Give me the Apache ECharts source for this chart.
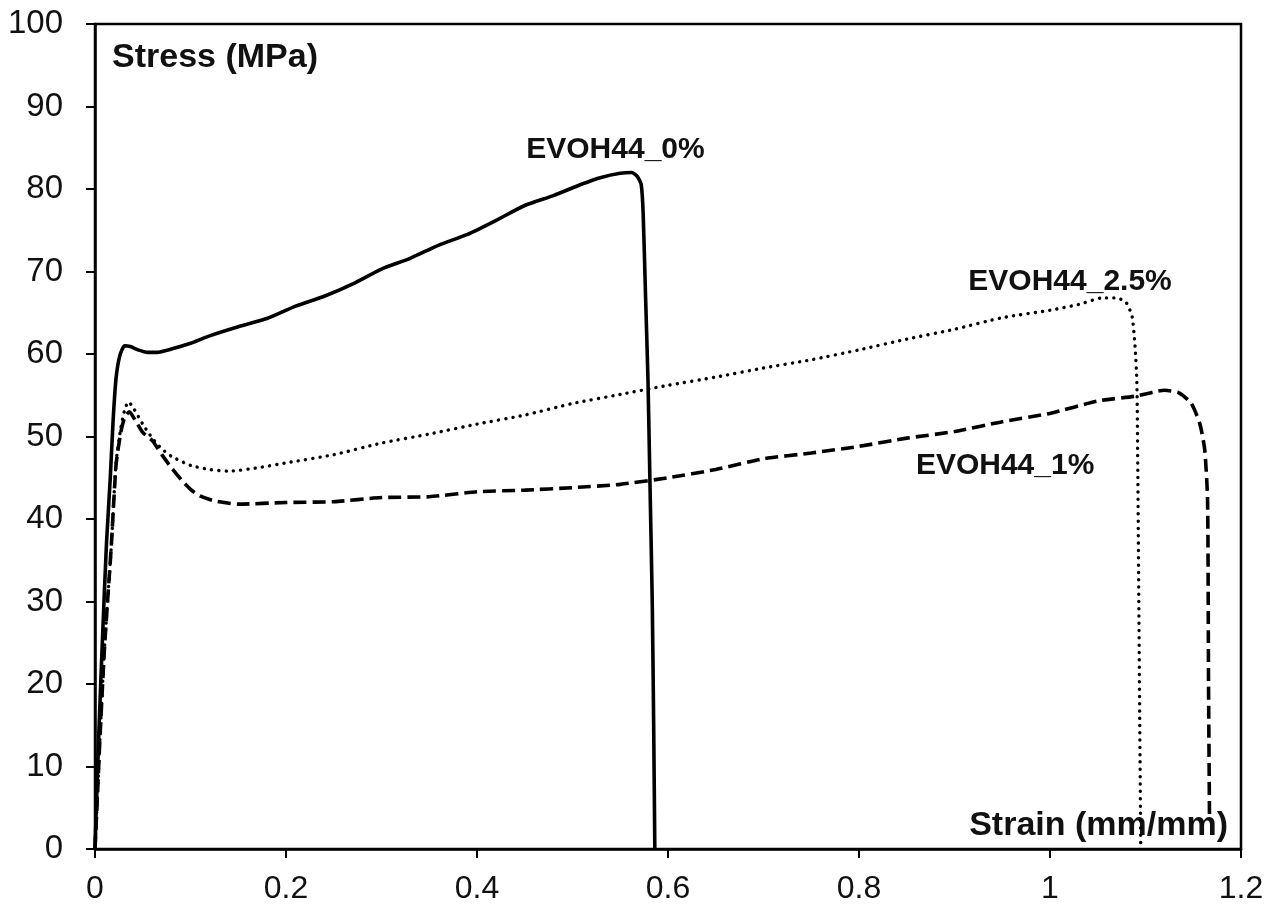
<!DOCTYPE html>
<html>
<head>
<meta charset="utf-8">
<style>html,body{margin:0;padding:0;background:#fff}#c{width:1279px;height:911px}</style>
<script src="https://cdn.jsdelivr.net/npm/echarts@6/dist/echarts.min.js"></script>
</head>
<body>
<div id="c"></div>
<script>
// ---- data ----
const strain0 = [0,0.004,0.008,0.012,0.016,0.019,0.022,0.026,0.031,0.037,0.045,0.055,0.065,0.08,0.1,0.12,0.15,0.18,0.21,0.24,0.27,0.3,0.33,0.36,0.39,0.42,0.45,0.48,0.51,0.53,0.55,0.562,0.568,0.572,0.574,0.5765,0.579,0.581,0.5835,0.585,0.5862];
const stress0 = [0,14,26,37,45,52,57,59.8,61,60.9,60.5,60.2,60.2,60.6,61.3,62.2,63.3,64.3,65.8,67,68.5,70.3,71.6,73.2,74.5,76.2,78,79.2,80.6,81.4,81.9,82,81.5,80.5,77,67,57,45,30,15,0];

const strain25 = [0,0.002,0.005,0.01,0.017,0.022,0.027,0.031,0.035,0.04,0.05,0.06,0.07,0.08,0.1,0.12,0.14,0.17,0.2,0.25,0.3,0.35,0.4,0.45,0.5,0.55,0.6,0.65,0.7,0.75,0.8,0.85,0.9,0.95,1.0,1.03,1.055,1.07,1.08,1.086,1.089,1.091,1.092,1.093,1.094,1.095];
const stress25 = [0,5,13,24.5,36.6,46.8,51,53.2,54.2,53.5,51.5,49.8,48.5,47.6,46.5,46,45.8,46.2,46.8,47.8,49.2,50.3,51.5,52.6,54,55.1,56.2,57.2,58.3,59.3,60.5,61.8,63,64.4,65.3,66,66.8,66.8,66.2,64.5,61,56.5,45,30,15,0.5];

const strain1 = [0,0.002,0.005,0.01,0.017,0.022,0.027,0.031,0.036,0.042,0.05,0.06,0.07,0.08,0.09,0.1,0.11,0.125,0.15,0.2,0.25,0.3,0.35,0.4,0.45,0.5,0.55,0.6,0.65,0.7,0.75,0.8,0.85,0.9,0.95,1.0,1.05,1.09,1.12,1.135,1.148,1.157,1.162,1.165,1.166,1.167];
const stress1 = [0,5,13,24.5,36.6,46.5,50.5,52.3,53,52,50.5,49.5,47.8,46.2,44.8,43.6,42.8,42.2,41.8,42,42.1,42.6,42.7,43.3,43.5,43.8,44.2,45,46,47.3,48,48.8,49.8,50.6,51.8,52.8,54.3,54.9,55.6,55.3,54,51.5,48.4,42.3,20,4];

const seriesNames = ['EVOH44_0%','EVOH44_2.5%','EVOH44_1%'];
const labelPos = [[0.545,84.7],[1.021,68.7],[0.953,46.5]];
const xTicks = [0,0.2,0.4,0.6,0.8,1,1.2];
const yTicks = [0,10,20,30,40,50,60,70,80,90,100];

const zip = (a,b) => a.map((v,i)=>[v,b[i]]);

const chart = echarts.init(document.getElementById('c'), null, {renderer:'canvas'});
const FONT = 'Liberation Sans, Arial, sans-serif';
const lblStyle = {show:true, position:'inside', fontFamily:FONT, fontWeight:'bold', fontSize:30, color:'#111', formatter:'{b}'};
function mk(i){ return {symbol:'circle', symbolSize:0, silent:true, data:[{name:seriesNames[i], coord:labelPos[i], label:lblStyle, itemStyle:{color:'transparent'}}]}; }

chart.setOption({
  animation:false,
  backgroundColor:'#fff',
  grid:{left:95, right:38, top:24, bottom:62, show:true, borderColor:'#000', borderWidth:2.5, backgroundColor:'transparent'},
  xAxis:{type:'value', min:0, max:1.2, interval:0.2,
    axisLine:{show:true, lineStyle:{color:'#000', width:2.5}},
    axisTick:{show:true, inside:false, length:9, lineStyle:{color:'#000', width:2}},
    splitLine:{show:false},
    axisLabel:{color:'#111', fontFamily:FONT, fontSize:32, margin:24,
      formatter:v=>{const t=xTicks.find(x=>Math.abs(x-v)<1e-9); return t===undefined?'':String(t);}}},
  yAxis:{type:'value', min:0, max:100, interval:10,
    axisLine:{show:true, lineStyle:{color:'#000', width:2.5}},
    axisTick:{show:true, inside:false, length:9, lineStyle:{color:'#000', width:2}},
    splitLine:{show:false},
    axisLabel:{color:'#111', fontFamily:FONT, fontSize:33, margin:32,
      formatter:v=>{const t=yTicks.find(x=>Math.abs(x-v)<1e-9); return t===undefined?'':String(t);}}},
  graphic:[
    {type:'text', left:112, top:41, style:{text:'Stress (MPa)', fontFamily:FONT, fontWeight:'bold', fontSize:34, fill:'#111'}},
    {type:'text', right:51, top:809, style:{text:'Strain (mm/mm)', fontFamily:FONT, fontWeight:'bold', fontSize:34, fill:'#111'}}
  ],
  series:[
    {name:seriesNames[0], type:'line', data:zip(strain0,stress0), showSymbol:false, smooth:0.2, z:3,
      lineStyle:{color:'#000', width:3.6, type:'solid'}, markPoint:mk(0)},
    {name:seriesNames[1], type:'line', data:zip(strain25,stress25), showSymbol:false, smooth:0.2, z:2,
      lineStyle:{color:'#000', width:3.4, type:[0.1,7.2], cap:'round'}, markPoint:mk(1)},
    {name:seriesNames[2], type:'line', data:zip(strain1,stress1), showSymbol:false, smooth:0.2, z:2,
      lineStyle:{color:'#000', width:3.6, type:[13,6]}, markPoint:mk(2)}
  ]
});
</script>
</body>
</html>
